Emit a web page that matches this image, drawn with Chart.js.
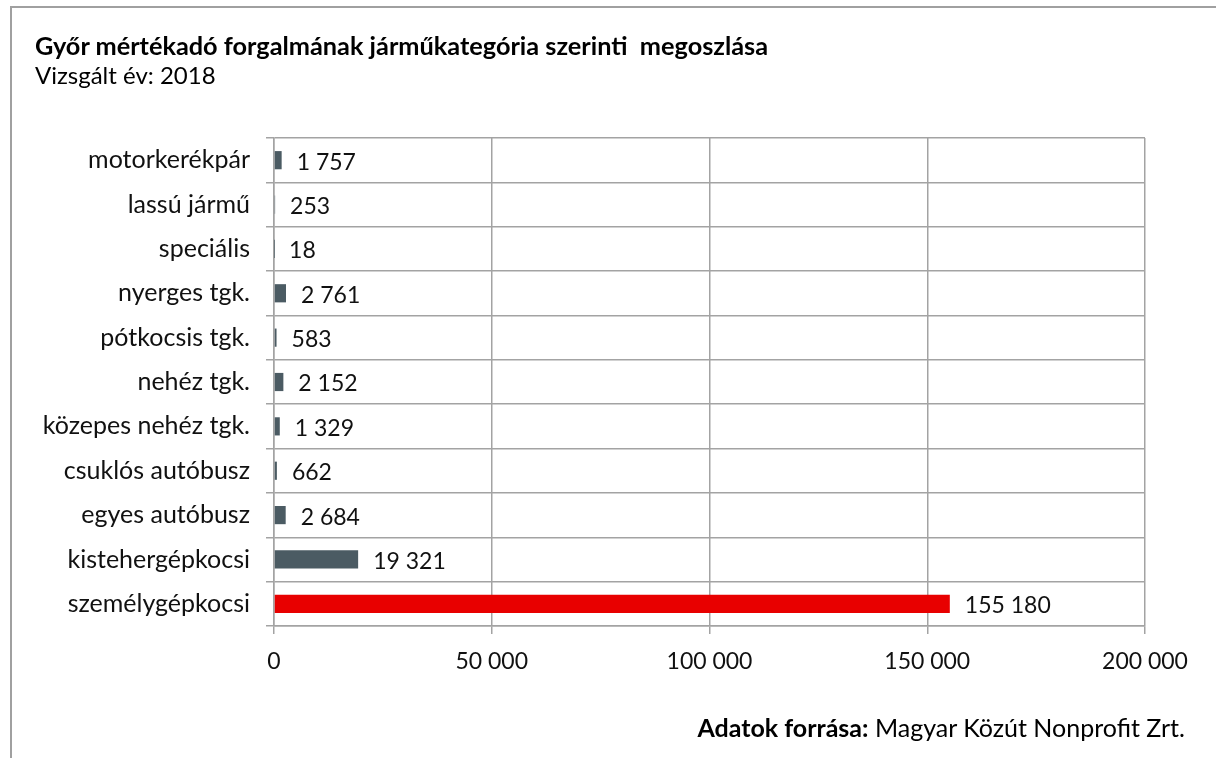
<!DOCTYPE html>
<html lang="hu">
<head>
<meta charset="utf-8">
<script src="https://cdn.jsdelivr.net/npm/chart.js@4/dist/chart.umd.min.js"></script>
<style>
  html, body { margin: 0; padding: 0; background: #fff; }
  body { width: 1216px; height: 758px; position: relative; overflow: hidden; font-family: 'Lato', sans-serif; color: #000; }
  #frame { position: absolute; left: 10px; top: 6px; right: -5px; bottom: -5px; border-top: 2px solid #a0a0a0; border-left: 2px solid #a0a0a0; }
  canvas { position: absolute; left: 0; top: 0; }
  .title { position: absolute; left: 35px; top: 30px; font-size: 25.3px; line-height: 30px; font-weight: bold; white-space: nowrap; }
  .subtitle { position: absolute; left: 35px; top: 60px; font-size: 24px; line-height: 30px; white-space: nowrap; }
  .source { position: absolute; right: 31px; top: 712px; font-size: 25px; line-height: 30px; white-space: nowrap; }
  .source b { font-weight: bold; }
</style>
</head>
<body>
<div id="frame"></div>
<canvas id="chart" width="1216" height="758"></canvas>
<div class="title">Győr mértékadó forgalmának járműkategória szerinti&nbsp; megoszlása</div>
<div class="subtitle">Vizsgált év: 2018</div>
<div class="source"><b>Adatok forrása:</b> Magyar Közút Nonprofit Zrt.</div>
<script>
// Adatok
const kategoriak = ['motorkerékpár', 'lassú jármű', 'speciális', 'nyerges tgk.', 'pótkocsis tgk.',
    'nehéz tgk.', 'közepes nehéz tgk.', 'csuklós autóbusz', 'egyes autóbusz', 'kistehergépkocsi', 'személygépkocsi'];
const forgalom = [1757, 253, 18, 2761, 583, 2152, 1329, 662, 2684, 19321, 155180];
const tengelyMax = 200000;
const tengelyLepes = 50000;

const szurke = '#4b5b63';
const piros = '#e80000';
const racsSzin = '#a3a3a3';
const betu = "'Lato', sans-serif";

function szamFormat(v) {
    return String(v).replace(/\B(?=(\d{3})+(?!\d))/g, ' ');
}

// Felirat a sávok végére
const ertekFeliratok = {
    id: 'ertekFeliratok',
    afterDatasetsDraw(chart) {
        const ctx = chart.ctx;
        const meta = chart.getDatasetMeta(0);
        ctx.save();
        ctx.font = '23px ' + betu;
        ctx.fillStyle = '#111';
        ctx.textAlign = 'left';
        ctx.textBaseline = 'middle';
        meta.data.forEach((bar, i) => {
            ctx.fillText(szamFormat(forgalom[i]), bar.x + 15, bar.y + 2);
        });
        ctx.restore();
    }
};

const ctx = document.getElementById('chart').getContext('2d');
const chart = new Chart(ctx, {
    type: 'bar',
    data: {
        labels: kategoriak,
        datasets: [{
            data: forgalom,
            backgroundColor: forgalom.map((v, i) => i === forgalom.length - 1 ? piros : szurke),
            borderWidth: 0,
            barPercentage: 0.41,
            categoryPercentage: 1
        }]
    },
    options: {
        indexAxis: 'y',
        responsive: false,
        animation: false,
        layout: { padding: { top: 138, right: 71, left: 0, bottom: 0 } },
        plugins: {
            legend: { display: false },
            tooltip: { enabled: false }
        },
        scales: {
            x: {
                min: 0,
                max: tengelyMax,
                afterFit(scale) { scale.height = 132; },
                ticks: {
                    stepSize: tengelyLepes,
                    callback: v => szamFormat(v),
                    font: { family: betu, size: 23 },
                    color: '#111',
                    padding: 14,
                    maxRotation: 0
                },
                grid: { color: racsSzin, lineWidth: 1.5, tickLength: 8 },
                border: { color: racsSzin, width: 1.5 }
            },
            y: {
                afterFit(scale) { scale.width = 274; },
                ticks: {
                    font: { family: betu, size: 25 },
                    color: '#111',
                    padding: 16
                },
                grid: { offset: true, color: racsSzin, lineWidth: 1.5, tickLength: 8 },
                border: { color: racsSzin, width: 1.5 }
            }
        }
    },
    plugins: [ertekFeliratok]
});
</script>
</body>
</html>
